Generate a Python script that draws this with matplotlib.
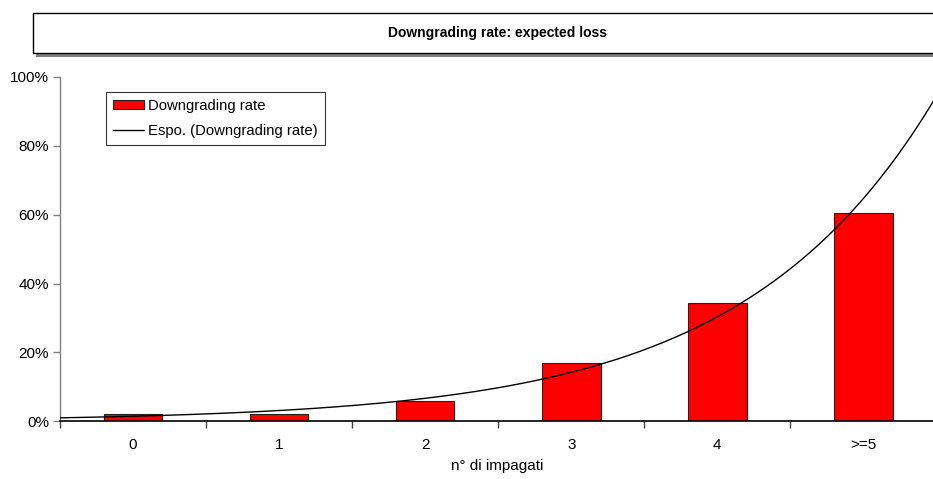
import numpy as np
import matplotlib
matplotlib.use("Agg")
import matplotlib.pyplot as plt
from matplotlib.patches import Rectangle
from matplotlib.ticker import FuncFormatter, FixedLocator

plt.rcParams['font.family'] = ['Liberation Sans', 'DejaVu Sans']

# Data
categories = ["0", "1", "2", "3", "4", ">=5"]
downgrading_rate = [2.0, 2.1, 5.8, 16.9, 34.5, 60.4]   # percent
title_text = "Downgrading rate: expected loss"
x_label = "n° di impagati"
bar_label = "Downgrading rate"
trend_label = "Espo. (Downgrading rate)"

W, H = 933, 479
fig = plt.figure(figsize=(W / 100, H / 100), dpi=100)

def fx(px):
    return px / W

def fy(py):
    return 1 - py / H

# Title box with drop shadow
box_l, box_t, box_r, box_b = 33, 13, 945, 52.5
shadow = Rectangle((fx(box_l + 3), fy(box_b + 4)), fx(box_r - box_l), (box_b - box_t) / H,
                   transform=fig.transFigure, facecolor="#808080", edgecolor="none", zorder=0)
frame = Rectangle((fx(box_l), fy(box_b)), fx(box_r - box_l), (box_b - box_t) / H,
                  transform=fig.transFigure, facecolor="white", edgecolor="black",
                  linewidth=1.0, zorder=1)
fig.patches.extend([shadow, frame])
fig.text(fx(498), fy(33), title_text, ha="center", va="center",
         fontsize=10, fontweight="bold", zorder=2)

# Plot area
ax_l, ax_r, ax_t, ax_b = 60, 936.5, 77, 421.3
ax = fig.add_axes([fx(ax_l), fy(ax_b), fx(ax_r - ax_l), (ax_b - ax_t) / H])

x = np.arange(len(categories))
vals = np.array(downgrading_rate) / 100.0
bars = ax.bar(x, vals, width=0.4, color="#ff0000", edgecolor="#222222", linewidth=0.8,
              zorder=2)

# Exponential trend line (least squares on log values)
b, ln_a = np.polyfit(x, np.log(vals), 1)
xt = np.linspace(-0.5, len(categories) - 0.5, 300)
trend, = ax.plot(xt, np.exp(ln_a + b * xt), color="black", linewidth=1.0, zorder=3)

ax.set_xlim(-0.5, len(categories) - 0.5)
ax.set_ylim(0, 1.0)

ax.yaxis.set_major_locator(FixedLocator(np.linspace(0, 1, 6)))
ax.yaxis.set_major_formatter(FuncFormatter(lambda v, p: f"{v * 100:.0f}%"))
ax.set_xticks(x)
ax.set_xticklabels(categories)
ax.xaxis.set_minor_locator(FixedLocator(np.arange(-0.5, len(categories), 1.0)))
ax.tick_params(axis="x", which="major", length=0, pad=12, labelsize=11)
ax.tick_params(axis="x", which="minor", length=5, width=1.0, color="#404040", direction="out")
ax.tick_params(axis="y", length=5, width=1.0, color="#808080", direction="out",
               pad=3, labelsize=11)

for s in ("top", "right"):
    ax.spines[s].set_visible(False)
ax.spines["left"].set_color("#808080")
ax.spines["left"].set_linewidth(1.0)
ax.spines["bottom"].set_color("black")
ax.spines["bottom"].set_linewidth(1.2)

fig.text(fx(497), fy(466), x_label, ha="center", va="center", fontsize=11)

leg = ax.legend([bars, trend], [bar_label, trend_label],
                loc="upper left", bbox_to_anchor=(fx(106), fy(92)),
                bbox_transform=fig.transFigure, borderaxespad=0, fontsize=10.7,
                frameon=True, fancybox=False, edgecolor="black",
                handlelength=2.1, handleheight=0.5, handletextpad=0.3,
                labelspacing=0.75, borderpad=0.45)
leg.get_frame().set_linewidth(0.8)

fig.savefig("out.png", dpi=100)
